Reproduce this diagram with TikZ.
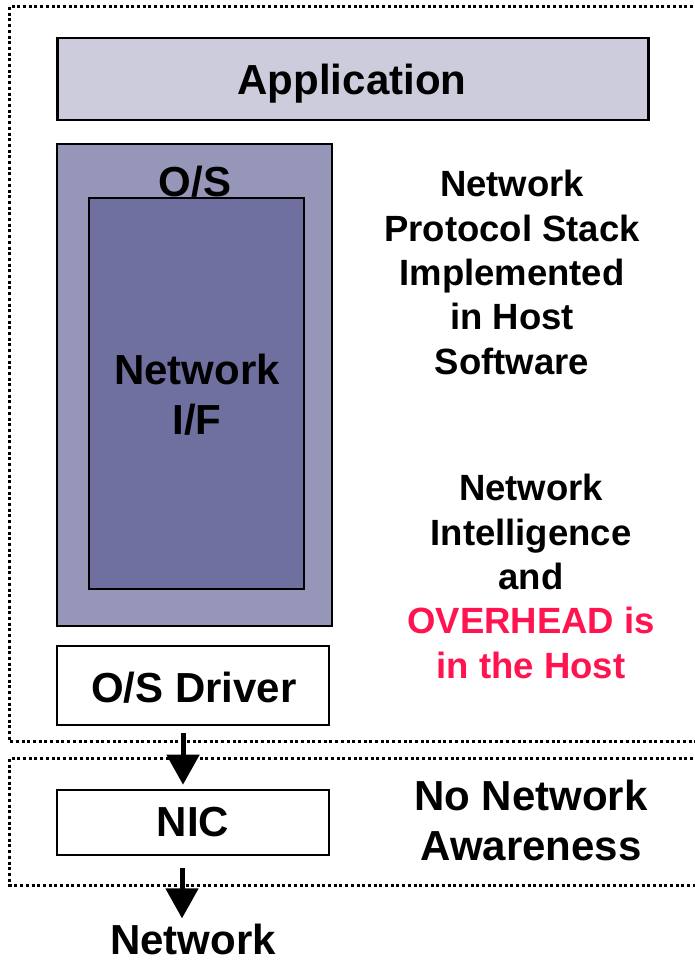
\documentclass[tikz,border=0pt]{standalone}
\usepackage{fontspec}
\setmainfont{Liberation Sans}
\usetikzlibrary{arrows.meta}

\definecolor{appfill}{RGB}{204,204,221}
\definecolor{osfill}{RGB}{150,150,185}
\definecolor{iffill}{RGB}{111,111,160}
\definecolor{hot}{RGB}{255,20,80}

\tikzset{
  layer/.style={draw=black, line width=2.6pt, rectangle, inner sep=0pt,
    font=\bfseries\fontsize{42}{50}\selectfont, align=center},
  big/.style={inner sep=0pt, align=center, font=\bfseries\fontsize{42}{50}\selectfont},
  note/.style={inner sep=0pt, align=center, font=\bfseries\fontsize{36.5}{44.3}\selectfont},
  zone/.style={line width=3pt, dash pattern=on 3pt off 2.7pt},
  arr/.style={line width=5pt, -{Triangle[width=32pt,length=30pt]}},
}

\begin{document}
\begin{tikzpicture}[x=1pt, y=-1pt]
  \clip (0,0) rectangle (695,961);
  \fill[white] (0,0) rectangle (695,961);

  % host and adapter zones
  \draw[zone] (710,6.5) -- (9.5,6.5) -- (9.5,741.7) -- (710,741.7);
  \draw[zone] (710,758.3) -- (9.5,758.3) -- (9.5,885) -- (710,885);

  % host software stack
  \node[layer, fill=appfill, minimum width=591pt, minimum height=82pt] (app) at (353,79) {};
  \node[big] (applabel) at (352,83.5) {Application};
  \node[layer, fill=osfill, minimum width=275pt, minimum height=482pt] (os) at (194.5,385) {};
  \node[big] (oslabel) at (195,182) {O/S};
  \node[layer, fill=iffill, minimum width=215pt, minimum height=391pt] (netif) at (196.5,393.5) {};
  \node[big] (iflabel) at (197,395) {Network\\I/F};
  \node[layer, fill=white, minimum width=272pt, minimum height=79pt] (drv) at (193,685.5) {};
  \node[big] (drvlabel) at (194,687.5) {O/S Driver};

  % adapter
  \node[layer, fill=white, minimum width=272pt, minimum height=65pt] (nic) at (193,822.5) {NIC};
  \node[big] (net) at (193,939) {Network};

  % annotations
  \node[note] (stack) at (512,272.5) {Network\\Protocol Stack\\Implemented\\in Host\\Software};
  \node[note] (intel) at (531,576.5) {Network\\Intelligence\\and\\\textcolor{hot}{OVERHEAD is}\\\textcolor{hot}{in the Host}};
  \node[big] (aware) at (531,820) {No Network\\Awareness};

  % data path
  \draw[arr] ([xshift=-10pt,yshift=-7pt]drv.south) -- ([xshift=-10pt,yshift=4pt]nic.north);
  \draw[arr] ([xshift=-11pt,yshift=-12pt]nic.south) -- ([xshift=-11pt,yshift=5pt]net.north);
\end{tikzpicture}
\end{document}
